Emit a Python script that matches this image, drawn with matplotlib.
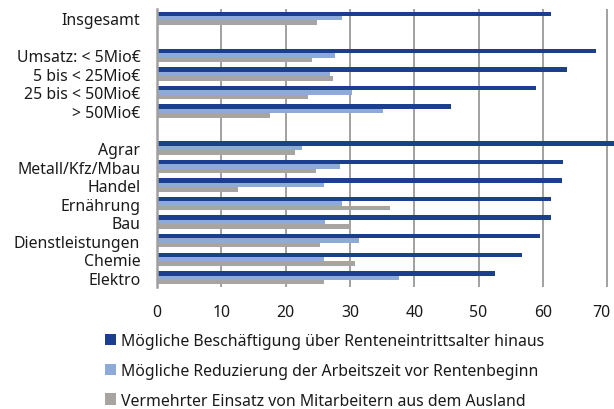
import numpy as np
import matplotlib
matplotlib.use("Agg")
import matplotlib.pyplot as plt
import matplotlib.transforms as mtransforms
from matplotlib.patches import Patch

plt.rcParams['font.family'] = ['Noto Sans', 'DejaVu Sans']

# empty strings are spacer rows between the blocks
categories = ["Insgesamt", "",
              "Umsatz: < 5Mio€", "5 bis < 25Mio€", "25 bis < 50Mio€", "> 50Mio€", "",
              "Agrar", "Metall/Kfz/Mbau", "Handel", "Ernährung", "Bau",
              "Dienstleistungen", "Chemie", "Elektro"]

beschaeftigung = [61.2, np.nan, 68.2, 63.7, 58.9, 45.7, np.nan,
                  72.0, 63.2, 63.0, 61.2, 61.2, 59.5, 56.8, 52.6]
reduzierung = [28.7, np.nan, 27.7, 26.9, 30.4, 35.1, np.nan,
               22.6, 28.4, 26.0, 28.8, 26.2, 31.4, 25.9, 37.6]
ausland = [24.9, np.nan, 24.1, 27.4, 23.5, 17.6, np.nan,
           21.5, 24.7, 12.6, 36.2, 30.0, 25.3, 30.8, 25.9]

series_names = ["Mögliche Beschäftigung über Renteneintrittsalter hinaus",
                "Mögliche Reduzierung der Arbeitszeit vor Rentenbeginn",
                "Vermehrter Einsatz von Mitarbeitern aus dem Ausland"]
colors = ["#1b3f8e", "#8eaad6", "#a8a4a1"]

fig = plt.figure(figsize=(6.14, 4.10), dpi=100)
# axes runs slightly past the right edge so the longest bar is cut off
ax = fig.add_axes([157 / 614, 122 / 410, 463 / 614, 278 / 410])

y = np.arange(len(categories))
h = 0.24
for i, (vals, col) in enumerate(zip([beschaeftigung, reduzierung, ausland], colors)):
    ax.barh(y + (i - 1) * h, vals, height=h, color=col, zorder=3)

ax.set_xlim(0, 72)
ax.set_ylim(len(categories) - 0.5, -0.5)
ax.set_xticks(range(0, 80, 10))
ax.set_yticks(y)
ax.set_yticklabels(categories)
ax.tick_params(axis='both', length=0, labelsize=11.4, colors='#1a1a1a')
ax.tick_params(axis='y', pad=12)
ax.tick_params(axis='x', pad=12)
ax.xaxis.grid(True, color='#9a9a9a', linewidth=1.3, zorder=0)
for s in ['top', 'right', 'bottom']:
    ax.spines[s].set_visible(False)
ax.spines['left'].set_color('#a0a0a0')
ax.spines['left'].set_linewidth(1.8)
ax.spines['left'].set_zorder(4)

# nudge the last x label left so it stays inside the figure
fig.canvas.draw()
last = ax.get_xticklabels()[-1]
last.set_transform(last.get_transform() + mtransforms.ScaledTranslation(-6 / 100, 0, fig.dpi_scale_trans))

handles = [Patch(facecolor=c, edgecolor='none') for c in colors]
fig.legend(handles, series_names, loc='upper left',
           bbox_to_anchor=(99 / 614, 1 - 328 / 410), frameon=False,
           fontsize=11.4, handlelength=0.7, handleheight=0.7,
           handletextpad=0.3, labelspacing=0.86, borderaxespad=0,
           labelcolor='#1a1a1a')

fig.savefig("out.png", dpi=100)
